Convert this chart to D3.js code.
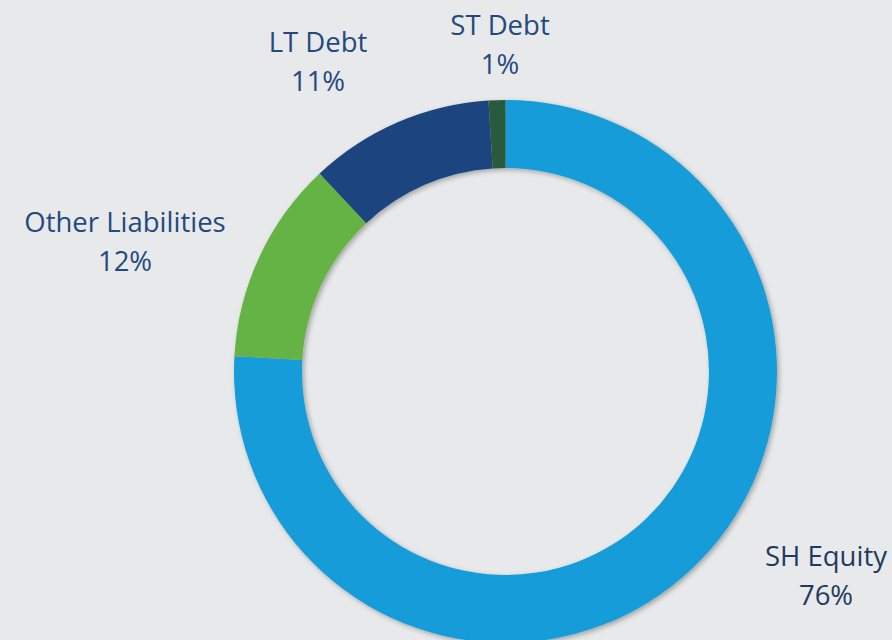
<!DOCTYPE html>
<html>
<head>
<meta charset="utf-8">
<script src="https://cdn.jsdelivr.net/npm/d3@7"></script>
<style>
  html, body { margin: 0; padding: 0; background: #e8e9eb; }
  svg { display: block; }
</style>
</head>
<body>
<svg id="chart"></svg>
<script>
// data
var categories = ["SH Equity", "Other Liabilities", "LT Debt", "ST Debt"];
var shares = [75.9, 12.1, 11.0, 1.0];
var shareLabels = ["76%", "12%", "11%", "1%"];

// layout
var width = 892, height = 640;
var cx = 505.5, cy = 371.5;
var outerR = 271.5, innerR = 203.5;
var colors = ["#149dd9", "#66b345", "#1b4480", "#2a5a3d"];
var textColors = ["#1f3a61", "#24497f", "#24497f", "#24497f"];
// label anchor (first line baseline), per slice
var labelPos = [[826, 566], [125, 232], [318, 52], [500, 35]];
var lineGap = 39;

var svg = d3.select("#chart")
    .attr("width", width)
    .attr("height", height);

svg.append("rect").attr("width", width).attr("height", height).attr("fill", "#e8e9eb");

var defs = svg.append("defs");
var shadow = defs.append("filter").attr("id", "shadow")
    .attr("x", "-10%").attr("y", "-10%").attr("width", "120%").attr("height", "120%");
shadow.append("feDropShadow")
    .attr("dx", 2).attr("dy", 2).attr("stdDeviation", 2.5)
    .attr("flood-color", "#000").attr("flood-opacity", 0.3);

var pie = d3.pie().sort(null).value(function(d) { return d; });
var arc = d3.arc().innerRadius(innerR).outerRadius(outerR);

var g = svg.append("g")
    .attr("transform", "translate(" + cx + "," + cy + ")")
    .attr("filter", "url(#shadow)");

g.selectAll("path")
    .data(pie(shares))
    .enter()
    .append("path")
    .attr("d", arc)
    .attr("fill", function(d, i) { return colors[i]; });

var labels = svg.selectAll(".label")
    .data(categories)
    .enter()
    .append("text")
    .attr("class", "label")
    .attr("text-anchor", "middle")
    .style("font-family", "'Open Sans', Lato, sans-serif")
    .style("font-size", "27.5px")
    .attr("fill", function(d, i) { return textColors[i]; });

labels.append("tspan")
    .attr("x", function(d, i) { return labelPos[i][0]; })
    .attr("y", function(d, i) { return labelPos[i][1]; })
    .text(function(d) { return d; });

labels.append("tspan")
    .attr("x", function(d, i) { return labelPos[i][0]; })
    .attr("y", function(d, i) { return labelPos[i][1] + lineGap; })
    .text(function(d, i) { return shareLabels[i]; });
</script>
</body>
</html>
